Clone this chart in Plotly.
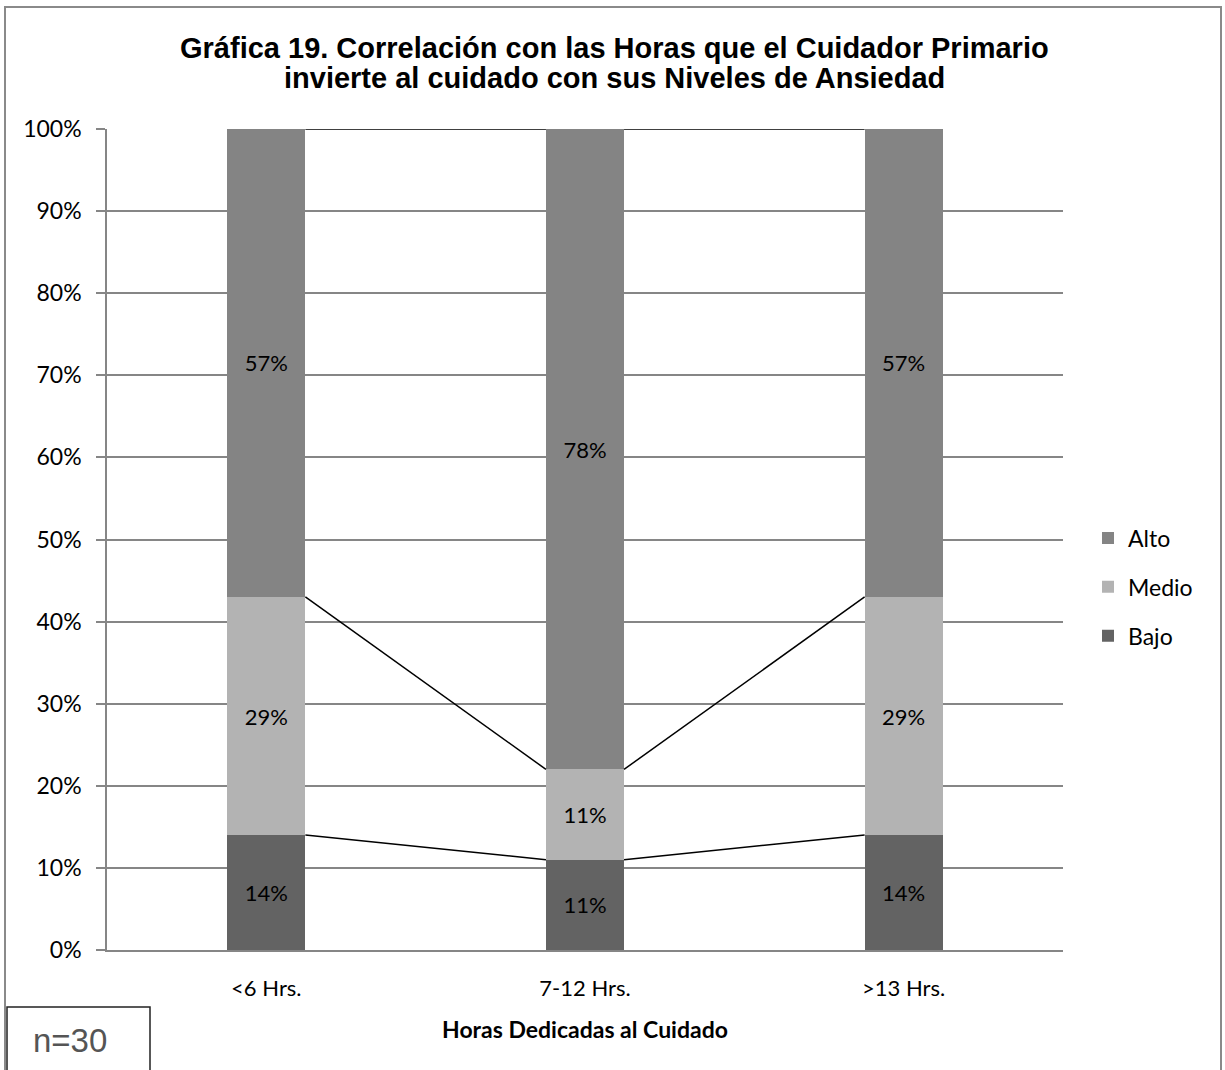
import plotly.graph_objects as go

categories = ["<6 Hrs.", "7-12 Hrs.", ">13 Hrs."]
bajo = [14, 11, 14]
medio = [29, 11, 29]
alto = [57, 78, 57]
series_names = ["Bajo", "Medio", "Alto"]
legend_rank = {"Alto": 1, "Medio": 2, "Bajo": 3}
colors = {"Bajo": "#636363", "Medio": "#b3b3b3", "Alto": "#848484"}
title_lines = ["Gráfica 19. Correlación con las Horas que el Cuidador Primario",
               "invierte al cuidado con sus Niveles de Ansiedad"]
x_title = "Horas Dedicadas al Cuidado"
note = "n=30"

W, H = 1225, 1070
L, R, T, B = 107, 162, 129, 120
BAR_W = 0.245
FONT = "Lato, Carlito, 'Open Sans', sans-serif"
TFONT = "'Liberation Sans', Arial, sans-serif"

fig = go.Figure()
xs = list(range(len(categories)))
data = {"Bajo": bajo, "Medio": medio, "Alto": alto}
for name in series_names:
    vals = data[name]
    fig.add_trace(go.Bar(
        x=xs, y=vals, name=name, width=BAR_W,
        marker=dict(color=colors[name], line=dict(width=0)),
        text=[f"{v}%" for v in vals], textposition="inside",
        insidetextanchor="middle", textangle=0,
        textfont=dict(family=FONT, size=22, color="black"),
        legendgroup=name, legendrank=legend_rank[name],
    ))

# series lines connecting segment tops between bars
cum = [0] * len(categories)
for name in series_names:
    cum = [c + v for c, v in zip(cum, data[name])]
    lx, ly = [], []
    for i in range(len(categories) - 1):
        lx += [xs[i] + BAR_W / 2, xs[i + 1] - BAR_W / 2, None]
        ly += [cum[i], cum[i + 1], None]
    fig.add_trace(go.Scatter(x=lx, y=ly, mode="lines", showlegend=False,
                             line=dict(color="black", width=1.5), hoverinfo="skip"))


def px_to_paper_x(px):
    return (px - L) / (W - L - R)


def px_to_paper_y(py):
    return (H - B - py) / (H - T - B)


shapes = [
    # outer chart border
    dict(type="rect", xref="paper", yref="paper",
         x0=px_to_paper_x(5), x1=px_to_paper_x(1221),
         y0=px_to_paper_y(1078), y1=px_to_paper_y(7),
         line=dict(color="#8a8a8a", width=2), fillcolor="rgba(0,0,0,0)", layer="below"),
    # n=30 box
    dict(type="rect", xref="paper", yref="paper",
         x0=px_to_paper_x(7), x1=px_to_paper_x(150),
         y0=px_to_paper_y(1078), y1=px_to_paper_y(1007),
         line=dict(color="#222222", width=1.5), fillcolor="white"),
]

annotations = [
    dict(text=note, xref="paper", yref="paper",
         x=px_to_paper_x(70), y=px_to_paper_y(1040),
         xanchor="center", yanchor="middle", showarrow=False,
         font=dict(family=TFONT, size=33, color="#555555")),
    dict(text=f"<b>{title_lines[0]}</b>", xref="paper", yref="paper",
         x=px_to_paper_x(614), y=px_to_paper_y(48),
         xanchor="center", yanchor="middle", showarrow=False,
         font=dict(family=TFONT, size=29, color="black")),
    dict(text=f"<b>{title_lines[1]}</b>", xref="paper", yref="paper",
         x=px_to_paper_x(614), y=px_to_paper_y(78),
         xanchor="center", yanchor="middle", showarrow=False,
         font=dict(family=TFONT, size=29, color="black")),
]

fig.update_layout(
    width=W, height=H,
    margin=dict(l=L, r=R, t=T, b=B),
    paper_bgcolor="white", plot_bgcolor="white",
    barmode="stack",
    xaxis=dict(
        range=[-0.5, 2.5], tickvals=xs, ticktext=categories,
        showgrid=False, zeroline=False,
        showline=True, linecolor="#868686", linewidth=1.5,
        ticks="", ticklabelstandoff=18,
        tickfont=dict(family=FONT, size=22, color="black"),
        title=dict(text=f"<b>{x_title}</b>", standoff=22,
                   font=dict(family=FONT, size=23, color="black")),
    ),
    yaxis=dict(
        range=[0, 100], tickvals=list(range(0, 101, 10)),
        ticktext=[f"{v}%" for v in range(0, 101, 10)],
        showgrid=True, gridcolor="#868686", gridwidth=1.5,
        zeroline=False, showline=True, linecolor="#868686", linewidth=1.5,
        ticks="outside", ticklen=9, tickcolor="#868686", tickwidth=1.5,
        ticklabelstandoff=10,
        tickfont=dict(family=FONT, size=23, color="black"),
    ),
    legend=dict(
        x=px_to_paper_x(1088), xanchor="left", y=px_to_paper_y(587), yanchor="middle",
        traceorder="grouped", tracegroupgap=16,
        font=dict(family=FONT, size=23, color="black"),
        bgcolor="rgba(0,0,0,0)",
    ),
    shapes=shapes,
    annotations=annotations,
    showlegend=True,
)

fig.write_html("out.html", config={"displayModeBar": False},
               post_script="document.body.style.margin='0';")
